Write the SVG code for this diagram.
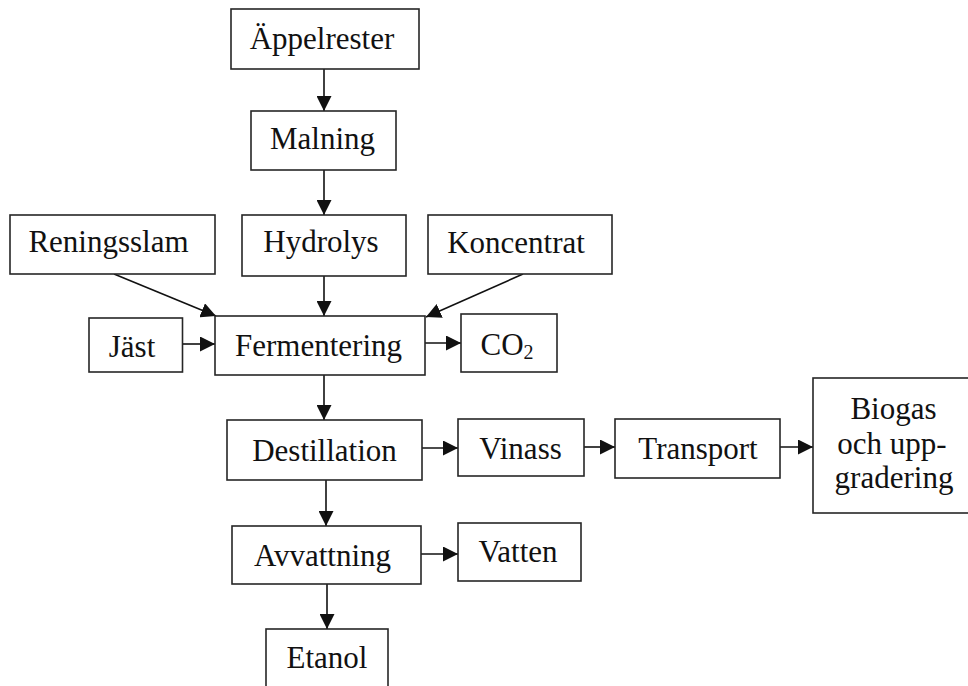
<svg xmlns="http://www.w3.org/2000/svg" width="968" height="686" viewBox="0 0 968 686">
<defs>
<style>
.box{fill:#fff;stroke:#262626;stroke-width:1.6}
.t{font-family:"Liberation Serif","Times New Roman",serif;font-size:31px;fill:#111;text-anchor:middle}
.c{stroke:#111;stroke-width:1.6;fill:none;marker-end:url(#ah)}
</style>
<marker id="ah" markerUnits="userSpaceOnUse" markerWidth="15" markerHeight="15" refX="15" refY="7.5" orient="auto">
<path d="M0,0 L15,7.5 L0,15 z" fill="#111"/>
</marker>
</defs>
<rect width="968" height="686" fill="#fff"/>
<g id="connectors">
<line class="c" x1="324" y1="69" x2="324" y2="111"/>
<line class="c" x1="324" y1="170" x2="324" y2="215"/>
<line class="c" x1="324" y1="276" x2="324" y2="316"/>
<line class="c" x1="114" y1="274" x2="216" y2="316"/>
<line class="c" x1="523" y1="274" x2="426" y2="317"/>
<line class="c" x1="183" y1="344" x2="215" y2="344"/>
<line class="c" x1="425" y1="343" x2="461" y2="343"/>
<line class="c" x1="324" y1="375" x2="324" y2="420"/>
<line class="c" x1="422" y1="448" x2="458" y2="448"/>
<line class="c" x1="584" y1="447" x2="615" y2="447"/>
<line class="c" x1="780" y1="447" x2="813" y2="447"/>
<line class="c" x1="326" y1="480" x2="326" y2="526"/>
<line class="c" x1="421" y1="554" x2="458" y2="554"/>
<line class="c" x1="327" y1="584" x2="327" y2="629"/>
</g>
<g id="appelrester"><rect class="box" x="231" y="9" width="188" height="60"/><text class="t" x="322" y="49">Äppelrester</text></g>
<g id="malning"><rect class="box" x="251" y="111" width="145" height="59"/><text class="t" x="322.5" y="149">Malning</text></g>
<g id="hydrolys"><rect class="box" x="242" y="215" width="164" height="61"/><text class="t" x="321" y="252">Hydrolys</text></g>
<g id="reningsslam"><rect class="box" x="10" y="215" width="205" height="59"/><text class="t" x="108.5" y="252">Reningsslam</text></g>
<g id="koncentrat"><rect class="box" x="428" y="215" width="184" height="59"/><text class="t" x="516" y="253">Koncentrat</text></g>
<g id="fermentering"><rect class="box" x="215" y="316" width="210" height="59"/><text class="t" x="318.5" y="356">Fermentering</text></g>
<g id="jast"><rect class="box" x="89" y="318" width="93.5" height="54"/><text class="t" x="132" y="357">Jäst</text></g>
<g id="co2"><rect class="box" x="461" y="314" width="96" height="58"/><text class="t" x="507" y="355">CO<tspan font-size="20" dy="4">2</tspan></text></g>
<g id="destillation"><rect class="box" x="227" y="420" width="195" height="60"/><text class="t" x="324.5" y="461">Destillation</text></g>
<g id="vinass"><rect class="box" x="458" y="419" width="126" height="57"/><text class="t" x="520.5" y="459">Vinass</text></g>
<g id="transport"><rect class="box" x="615" y="419" width="165" height="59"/><text class="t" x="698" y="459">Transport</text></g>
<g id="biogas"><rect class="box" x="813" y="378" width="162" height="135"/><text class="t" x="893.5" y="419">Biogas</text><text class="t" x="892" y="454">och upp-</text><text class="t" x="894" y="488">gradering</text></g>
<g id="avvattning"><rect class="box" x="232" y="526" width="189" height="58"/><text class="t" x="322.5" y="566">Avvattning</text></g>
<g id="vatten"><rect class="box" x="458" y="523" width="123" height="58"/><text class="t" x="518" y="562">Vatten</text></g>
<g id="etanol"><rect class="box" x="266" y="629" width="122" height="62"/><text class="t" x="327" y="668">Etanol</text></g>
</svg>
